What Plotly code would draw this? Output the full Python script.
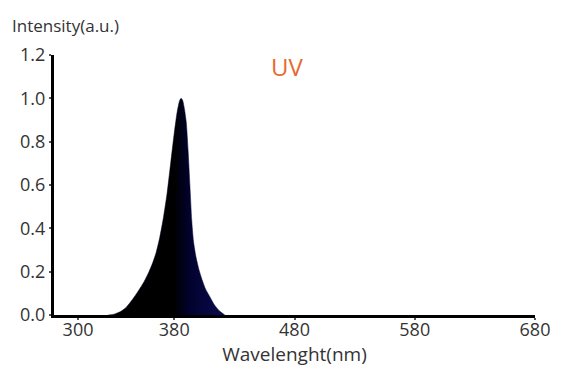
import plotly.graph_objects as go

# Spectrum (wavelength nm, relative intensity)
wavelength = [325, 330, 335, 340, 345, 350, 355, 359, 362, 365, 368, 371, 374, 377,
              380, 382.5, 384.5, 385.7, 387, 388.5, 390, 391.5, 393, 394.5, 396, 398,
              400.5, 403, 406, 409.5, 413, 417, 422]
intensity = [0.0, 0.004, 0.015, 0.035, 0.07, 0.11, 0.155, 0.2, 0.24, 0.29, 0.36, 0.45,
             0.56, 0.70, 0.84, 0.94, 0.99, 1.0, 0.99, 0.95, 0.89, 0.76, 0.60, 0.44,
             0.34, 0.27, 0.21, 0.165, 0.12, 0.085, 0.05, 0.022, 0.0]

x_ticks = [300, 380, 480, 580, 680]
y_ticks = [0.0, 0.2, 0.4, 0.6, 0.8, 1.0, 1.2]

FONT = "Open Sans"
TXT = "#333333"

fig = go.Figure()
fig.add_trace(go.Scatter(
    x=wavelength, y=intensity, mode="lines",
    line=dict(color="#03032e", width=0.5, shape="spline", smoothing=0.6),
    fill="tozeroy",
    fillgradient=dict(type="horizontal", start=325, stop=422,
                      colorscale=[[0, "#000000"], [0.55, "#000000"],
                                  [0.68, "#02022e"], [1, "#0b0b52"]]),
    hoverinfo="skip", showlegend=False,
))

fig.update_layout(
    width=566, height=376,
    margin=dict(l=39, r=39, t=47, b=69),
    paper_bgcolor="white", plot_bgcolor="white",
    font=dict(family=FONT, color=TXT),
    xaxis=dict(range=[280, 680], tickvals=x_ticks, showgrid=False, zeroline=False,
               showline=True, linecolor="black", linewidth=3,
               ticks="outside", ticklen=2, tickwidth=1.5, tickcolor="#555555",
               ticklabelstandoff=-6,
               tickfont=dict(size=18, color=TXT, family=FONT),
               title=dict(text="Wavelenght(nm)", standoff=0,
                          font=dict(size=19, color=TXT, family=FONT))),
    yaxis=dict(range=[0, 1.2], tickvals=y_ticks, tickformat=".1f", showgrid=False,
               zeroline=False, showline=True, linecolor="black", linewidth=3,
               ticks="outside", ticklen=2, tickwidth=1.5, tickcolor="#555555",
               tickfont=dict(size=18, color=TXT, family=FONT)),
    annotations=[
        dict(text="Intensity(a.u.)", xref="paper", yref="paper",
             x=-0.092, y=1.115, xanchor="left", yanchor="middle", showarrow=False,
             font=dict(size=17, color=TXT, family=FONT)),
        dict(text="UV", xref="paper", yref="paper", x=0.485, y=0.954,
             xanchor="center", yanchor="middle", showarrow=False,
             font=dict(size=24, color="#E8692E", family=FONT)),
    ],
)

fig.write_html("out.html")
